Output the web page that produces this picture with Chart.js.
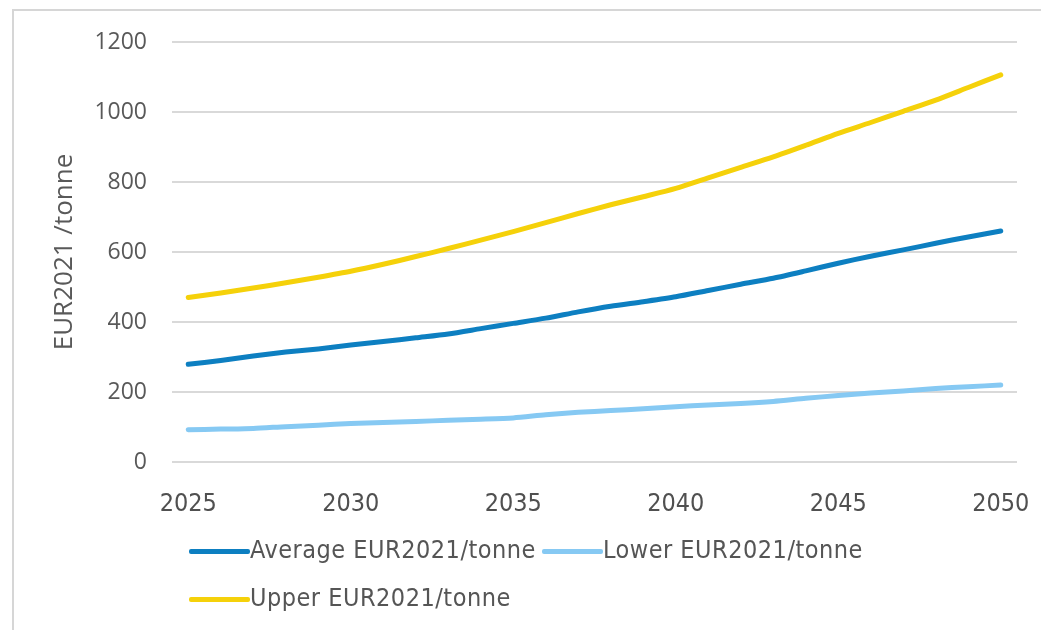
<!DOCTYPE html>
<html>
<head>
<meta charset="utf-8">
<script src="https://cdn.jsdelivr.net/npm/chart.js@4"></script>
<style>
  body { margin: 0; background: #fff; }
  #wrap { position: relative; width: 1041px; height: 630px; overflow: hidden; }
  #frame { position: absolute; left: 12px; top: 9px; width: 1100px; height: 700px;
           border-left: 2px solid #d6d6d6; border-top: 2px solid #d6d6d6; }
  #box { position: absolute; left: 0; top: 0; width: 1041px; height: 630px; }
  #legend { position: absolute; left: 189px; top: 531px; width: 820px;
            font-family: "DejaVu Sans Condensed", "DejaVu Sans", sans-serif; font-size: 25px;
            letter-spacing: 0.5px; color: #555; }
  .item { display: inline-block; height: 38px; line-height: 38px; margin-bottom: 10px; margin-right: 6px; white-space: nowrap; }
  .sw { display: inline-block; width: 61px; height: 5px; vertical-align: middle; border-radius: 2px; }
</style>
</head>
<body>
<div id="wrap">
  <div id="frame"></div>
  <div id="box"><canvas id="g1"></canvas></div>
  <div id="legend"></div>
</div>
<script>
// data
var tahun = [2025, 2026, 2027, 2028, 2029, 2030, 2031, 2032, 2033, 2034, 2035, 2036, 2037,
             2038, 2039, 2040, 2041, 2042, 2043, 2044, 2045, 2046, 2047, 2048, 2049, 2050];

var average = [279, 290, 303, 314, 323, 334, 344, 355, 366, 381, 396, 411, 429,
               445, 458, 472, 490, 508, 525, 546, 568, 588, 606, 625, 643, 660];

var lower = [92, 94, 96, 101, 105, 110, 113, 116, 119, 122, 126, 135, 142,
             147, 152, 158, 163, 167, 173, 182, 190, 197, 203, 210, 215, 220];

var upper = [470, 483, 497, 512, 528, 545, 565, 587, 610, 634, 658, 684, 710,
             735, 758, 782, 812, 842, 872, 905, 939, 970, 1002, 1034, 1070, 1106];

var namaSeri = ['Average EUR2021/tonne', 'Lower EUR2021/tonne', 'Upper EUR2021/tonne'];
var warna = ['#0d7fc1', '#86c9f3', '#f5d10a'];

var abu = '#595959';

var ctx_1 = document.getElementById('g1');

var myChart = new Chart(ctx_1, {
    type: 'line',
    data: {
        labels: tahun,
        datasets: [
            { label: namaSeri[0], data: average, borderColor: warna[0], backgroundColor: warna[0] },
            { label: namaSeri[1], data: lower, borderColor: warna[1], backgroundColor: warna[1] },
            { label: namaSeri[2], data: upper, borderColor: warna[2], backgroundColor: warna[2] }
        ]
    },
    options: {
        responsive: true,
        maintainAspectRatio: false,
        animation: false,
        layout: { padding: { top: 42, right: 24, left: 0, bottom: 0 } },
        elements: {
            line: { borderWidth: 5, tension: 0.25, borderCapStyle: 'round' },
            point: { radius: 0 }
        },
        plugins: {
            legend: { display: false },
            tooltip: { enabled: false }
        },
        scales: {
            x: {
                offset: true,
                grid: { display: false },
                border: { display: false },
                ticks: {
                    autoSkip: false,
                    maxRotation: 0,
                    padding: 19,
                    color: '#505050',
                    font: { family: '"DejaVu Sans Condensed", "DejaVu Sans"', size: 25 },
                    callback: function(val, i) {
                        var t = tahun[i];
                        return (t % 5 === 0) ? String(t) : '';
                    }
                },
                afterFit: function(scale) {
                    scale.height = 168;
                    scale.paddingLeft = 0;
                    scale.paddingRight = 0;
                }
            },
            y: {
                min: 0,
                max: 1200,
                ticks: {
                    stepSize: 200,
                    padding: 25,
                    color: abu,
                    font: { family: '"Open Sans"', size: 23 },
                    callback: function(v) { return String(v); }
                },
                grid: { color: '#d9d9d9', lineWidth: 2, drawTicks: false },
                border: { display: false },
                title: {
                    display: true,
                    text: 'EUR2021 /tonne',
                    color: abu,
                    font: { family: '"Open Sans"', size: 26 },
                    padding: { top: 49 }
                },
                afterFit: function(scale) { scale.width = 172; }
            }
        }
    }
});

// legenda manual, kiri rata
var leg = document.getElementById('legend');
for (var i = 0; i < namaSeri.length; i++) {
    var it = document.createElement('div');
    it.className = 'item';
    var sw = document.createElement('span');
    sw.className = 'sw';
    sw.style.background = warna[i];
    it.appendChild(sw);
    it.appendChild(document.createTextNode(namaSeri[i]));
    leg.appendChild(it);
    if (i === 1) leg.appendChild(document.createElement('br'));
}
</script>
</body>
</html>
